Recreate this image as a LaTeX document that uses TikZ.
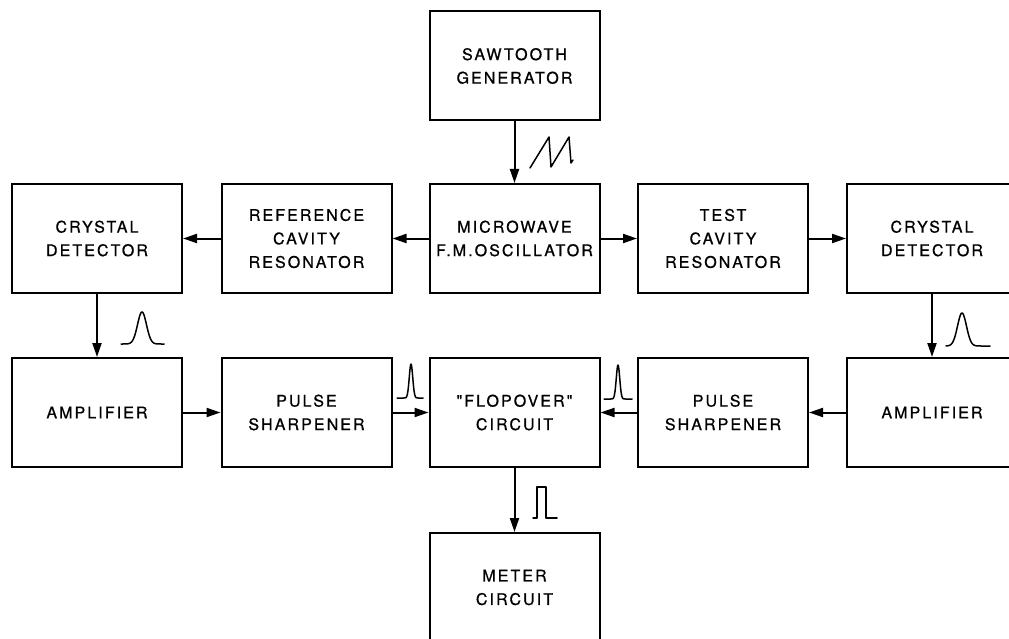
\documentclass[tikz,border=0pt]{standalone}
\usepackage{fontspec}
\usetikzlibrary{arrows.meta}
\newfontfamily\lab[LetterSpace=13,FakeBold=0.8]{TeX Gyre Heros}
\begin{document}
\begin{tikzpicture}[x=1pt,y=-1pt,
  blk/.style={draw,line width=2pt,minimum width=170pt,minimum height=109pt,inner sep=0pt,
    align=center,font=\lab\fontsize{16}{23.5}\selectfont},
  arr/.style={line width=2pt,-{Triangle[length=14pt,width=9pt]}},
  wave/.style={line width=1.5pt,line join=round,line cap=round}]
\useasboundingbox (0,0) rectangle (1009,639);
% boxes
\node[blk] (saw)  at (514.5,66)    {SAWTOOTH\\GENERATOR};
\node[blk] (cd1)  at (97,238.5)    {CRYSTAL\\DETECTOR};
\node[blk] (ref)  at (306.5,238.5) {REFERENCE\\CAVITY\\RESONATOR};
\node[blk] (mw)   at (514.5,238.5) {MICROWAVE\\F.M.OSCILLATOR};
\node[blk] (test) at (723,238.5)   {TEST\\CAVITY\\RESONATOR};
\node[blk] (cd2)  at (932,238.5)   {CRYSTAL\\DETECTOR};
\node[blk] (amp1) at (97,412.5)    {AMPLIFIER};
\node[blk] (ps1)  at (306.5,412.5) {PULSE\\SHARPENER};
\node[blk] (flop) at (514.5,412.5) {"FLOPOVER"\\CIRCUIT};
\node[blk] (ps2)  at (723,412.5)   {PULSE\\SHARPENER};
\node[blk] (amp2) at (932,412.5)   {AMPLIFIER};
\node[blk] (met)  at (514.5,587.5) {METER\\CIRCUIT};
% connectors
\draw[arr] (saw) -- (mw);
\draw[arr] (mw.west) -- (ref.east);
\draw[arr] (ref.west) -- (cd1.east);
\draw[arr] (mw.east) -- (test.west);
\draw[arr] (test.east) -- (cd2.west);
\draw[arr] (cd1) -- (amp1);
\draw[arr] (cd2) -- (amp2);
\draw[arr] (amp1.east) -- (ps1.west);
\draw[arr] (ps1.east) -- (flop.west);
\draw[arr] (amp2.west) -- (ps2.east);
\draw[arr] (ps2.west) -- (flop.east);
\draw[arr] (flop) -- (met);
% waveforms
\draw[wave] (530,168) -- (549,137) -- (551,167) -- (569,137) -- (571,163) -- (573,160);
\draw[wave] plot[domain=-21:22,samples=80,smooth] ({142+\x},{344-32*exp(-(\x)*(\x)/40)});
\draw[wave] plot[domain=-16:28,samples=80,smooth] ({962+\x},{346-33*exp(-(\x)*(\x)/40)});
\draw[wave] plot[domain=-14:12,samples=80,smooth] ({411+\x},{398-34*exp(-(\x)*(\x)/6)});
\draw[wave] plot[domain=-14:14,samples=80,smooth] ({618+\x},{399-34*exp(-(\x)*(\x)/6)});
\draw[wave] (533,518) -- (537,518) -- (537,487) -- (546,487) -- (546,518) -- (557,518);
\end{tikzpicture}
\end{document}
